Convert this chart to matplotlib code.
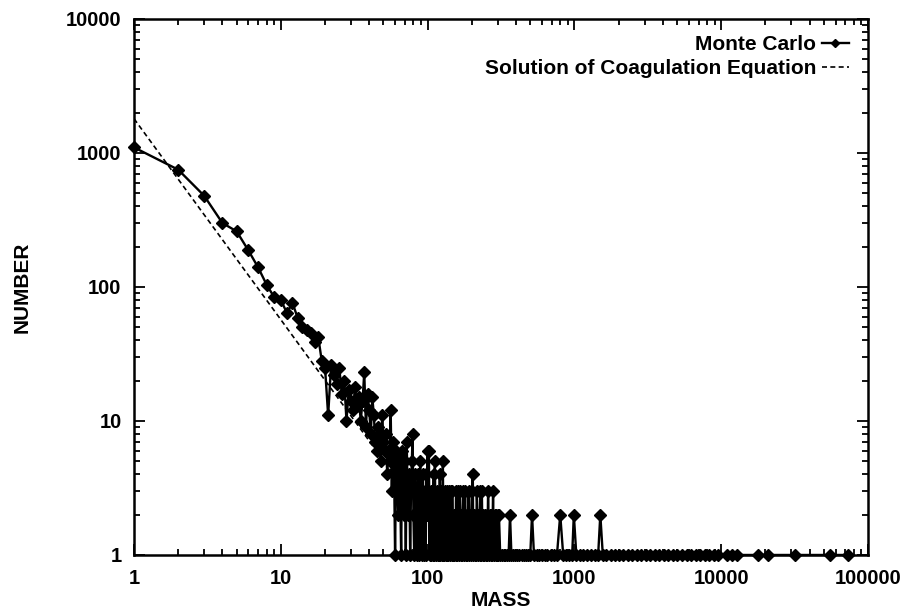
import matplotlib

matplotlib.use("Agg")
import matplotlib.pyplot as plt
from matplotlib.ticker import FixedLocator, LogLocator, NullFormatter

plt.rcParams["font.family"] = ["Liberation Sans", "DejaVu Sans"]

# Monte Carlo cluster counts: every mass up to 100 ...
mc_mass_small = list(range(1, 101))
mc_count_small = [
    1100, 750, 480, 300, 260, 188, 140, 104, 84, 80,
    64, 76, 59, 50, 48, 45, 39, 42, 28, 25,
    11, 26, 22, 19, 25, 16, 20, 10, 17, 14,
    12, 18, 13, 15, 10, 14, 23, 9, 16, 12,
    8, 15, 11, 7, 6, 9, 8, 5, 11, 7,
    6, 8, 4, 6, 5, 12, 3, 7, 5, 1,
    6, 4, 2, 5, 3, 1, 6, 4, 2, 5,
    1, 7, 3, 2, 4, 1, 3, 5, 8, 2,
    1, 4, 3, 1, 2, 4, 1, 3, 5, 2,
    1, 3, 4, 1, 2, 3, 1, 4, 2, 6,
]

# ... then only the masses that occur
mc_mass_mid = [
    101, 102, 103, 104, 105, 106, 107, 108, 109, 110, 111, 112, 113, 114,
    115, 116, 117, 118, 119, 120, 121, 122, 123, 124, 125, 126, 127, 128,
    129, 130, 131, 133, 134, 135, 136, 138, 139, 140, 141, 143, 144, 146,
    147, 149, 150, 152, 153, 155, 156, 158, 159, 161, 162, 164, 166, 168,
    169, 171, 173, 175, 177, 179, 180, 182, 184, 186, 188, 190, 192, 194,
    196, 198, 200, 203, 205, 207, 210, 212, 214, 216, 219, 221, 224, 226,
    229, 231, 234, 237, 240, 243, 246, 249, 252, 255, 258, 262, 265, 268,
    272, 275, 279, 282, 286, 290, 293, 297, 300, 303, 306,
]
mc_count_mid = [
    2, 6, 1, 2, 3, 1, 2, 1, 2, 4, 1, 5, 2, 1,
    2, 3, 2, 1, 2, 1, 4, 1, 2, 3, 1, 2, 5, 1,
    2, 1, 3, 1, 2, 1, 3, 1, 3, 2, 1, 2, 3, 1,
    3, 1, 2, 1, 2, 1, 3, 2, 1, 3, 2, 1, 3, 1,
    2, 1, 2, 3, 1, 2, 3, 1, 2, 1, 2, 3, 1, 2,
    1, 2, 3, 4, 1, 2, 1, 2, 1, 3, 2, 1, 2, 1,
    3, 1, 3, 1, 2, 1, 2, 1, 2, 1, 3, 1, 2, 1,
    2, 1, 3, 1, 2, 1, 2, 1, 2, 1, 2,
]

mc_mass_large = [
    312, 320, 329, 338, 347, 356, 364, 372, 383, 395, 408, 421, 436, 450,
    466, 483, 500, 514, 530, 552, 575, 600, 628, 655, 690, 722, 760, 800,
    838, 880, 925, 965, 990, 1030, 1090, 1150, 1220, 1300, 1390, 1450, 1500,
    1560, 1650, 1760, 1880, 2010, 2150, 2300, 2470, 2650, 2850, 3050, 3280,
    3520, 3780, 4050, 4350, 4680, 5020, 5400, 5800, 6230, 6700, 7200, 7750,
    8300, 8900, 9500, 11000, 11800, 12800, 17700, 20800, 32000, 54800, 73000,
]
mc_count_large = [
    1, 1, 1, 1, 1, 1, 2, 1, 1, 1, 1, 1, 1, 1,
    1, 1, 1, 2, 1, 1, 1, 1, 1, 1, 1, 1, 1, 2,
    1, 1, 1, 1, 2, 1, 1, 1, 1, 1, 1, 1, 2,
    1, 1, 1, 1, 1, 1, 1, 1, 1, 1, 1, 1,
    1, 1, 1, 1, 1, 1, 1, 1, 1, 1, 1, 1,
    1, 1, 1, 1, 1, 1, 1, 1, 1, 1, 1,
]

mc_mass = mc_mass_small + mc_mass_mid + mc_mass_large
mc_count = mc_count_small + mc_count_mid + mc_count_large

# coagulation equation solution (power law, straight in log-log)
coag_mass = [1, 10, 40, 148]
coag_count = [1800, 57, 7.1, 1.0]

x_ticks = [1, 10, 100, 1000, 10000, 100000]
x_labels = ["1", "10", "100", "1000", "10000", "100000"]
y_ticks = [1, 10, 100, 1000, 10000]
y_labels = ["1", "10", "100", "1000", "10000"]

fig = plt.figure(figsize=(9.13, 6.11), dpi=100)
ax = fig.add_axes([0.1468, 0.0917, 0.804, 0.8773])

ax.plot(mc_mass, mc_count, color="black", linewidth=1.7, marker="D",
        markersize=6.5, clip_on=False, label="Monte Carlo", zorder=3)
ax.plot(coag_mass, coag_count, color="black", linewidth=1.2,
        linestyle=(0, (3, 2)), label="Solution of Coagulation Equation",
        zorder=2)

ax.set_xscale("log")
ax.set_yscale("log")
ax.set_xlim(1, 100000)
ax.set_ylim(1, 10000)

ax.xaxis.set_major_locator(FixedLocator(x_ticks))
ax.set_xticklabels(x_labels)
ax.yaxis.set_major_locator(FixedLocator(y_ticks))
ax.set_yticklabels(y_labels)
for axis in (ax.xaxis, ax.yaxis):
    axis.set_minor_locator(LogLocator(base=10, subs=range(2, 10), numticks=20))
    axis.set_minor_formatter(NullFormatter())

ax.tick_params(which="both", direction="in", top=True, right=True,
               width=1.3, labelsize=14.5)
ax.tick_params(axis="x", pad=10)
ax.tick_params(axis="y", pad=9)
ax.tick_params(which="major", length=8)
ax.tick_params(which="minor", length=4)
for lab in ax.get_xticklabels() + ax.get_yticklabels():
    lab.set_fontweight("bold")
for sp in ax.spines.values():
    sp.set_linewidth(1.8)

ax.set_xlabel("MASS", fontsize=15, fontweight="bold", labelpad=2)
ax.set_ylabel("NUMBER", fontsize=15, fontweight="bold", labelpad=25)

leg = ax.legend(loc="upper right", bbox_to_anchor=(0.985, 0.985),
                frameon=False, markerfirst=False,
                handlelength=1.3, handletextpad=0.25, labelspacing=0.22,
                borderaxespad=0.0, numpoints=1,
                prop={"size": 15, "weight": "bold"})
for h in leg.legend_handles:
    h.set_markersize(4.5)

fig.savefig("out.png", dpi=100)
